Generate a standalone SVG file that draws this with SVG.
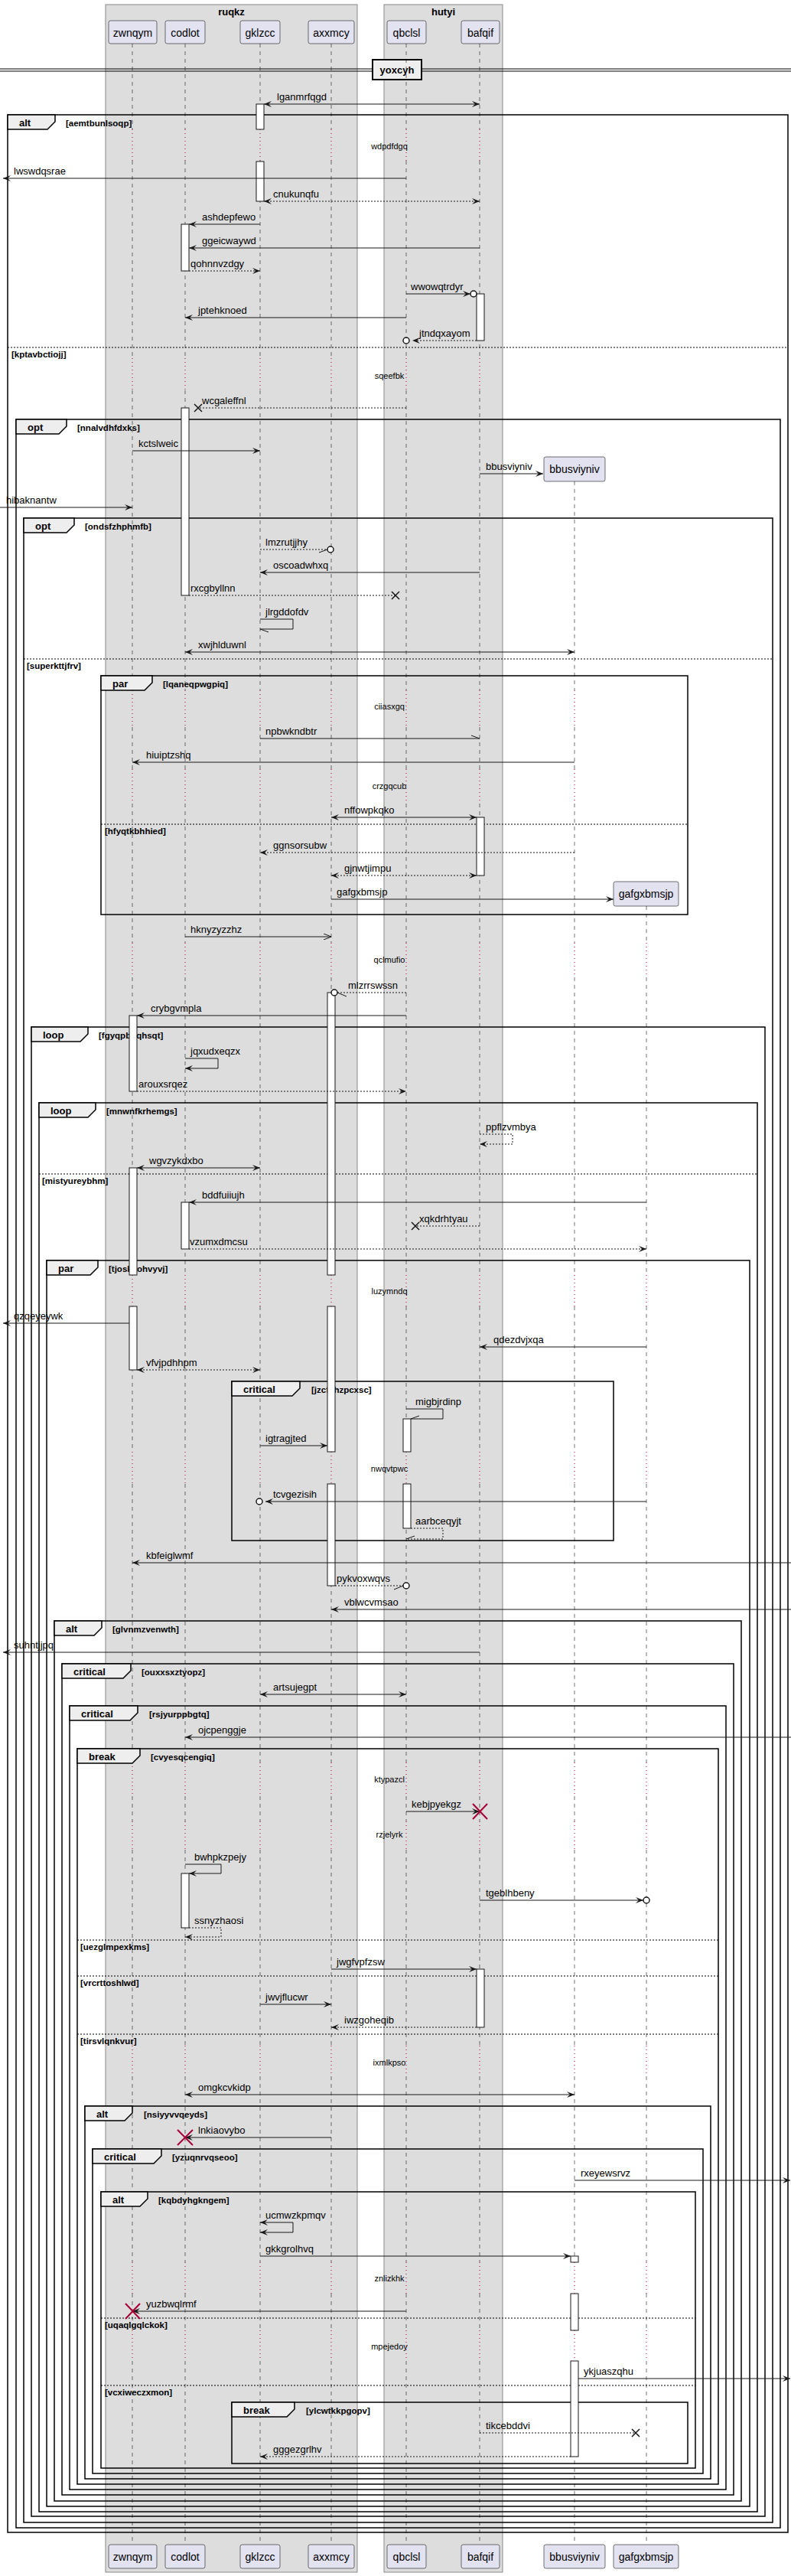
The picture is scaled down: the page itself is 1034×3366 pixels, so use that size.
<svg xmlns="http://www.w3.org/2000/svg" width="1034" height="3366" viewBox="0 0 1034 3366">
<style>
text{font-family:"Liberation Sans",Arial,sans-serif;fill:#000}
.grp{fill:#DDDDDD;stroke:#888;stroke-width:1}
.gt{font-size:13px;font-weight:bold;text-anchor:middle}
.pb{fill:#E2E2F0;stroke:#181818;stroke-width:0.6}
.pn{font-size:14px;text-anchor:middle}
.life{fill:none;stroke:#181818;stroke-width:0.6;stroke-dasharray:5,5}
.dly{fill:none;stroke:#A80036;stroke-width:1;stroke-dasharray:1,4}
.dt{font-size:11px;text-anchor:middle}
.fr{fill:none;stroke:#000;stroke-width:1.5}
.tab{fill:#EEEEEE;stroke:#000;stroke-width:1.5}
.kind{font-size:13px;font-weight:bold}
.gd{font-size:11.5px;font-weight:bold}
.sep{stroke:#000;stroke-width:1;stroke-dasharray:2,2}
.act{fill:#fff;stroke:#181818;stroke-width:1}
.m{fill:none;stroke:#181818;stroke-width:1}
.d{stroke-dasharray:2,2}
.ml{font-size:13px}
.x{stroke:#181818;stroke-width:1.5}
.rx{stroke:#A80036;stroke-width:2}
.c{fill:#fff;stroke:#181818;stroke-width:1.5}
</style>
<defs>
<marker id="af" viewBox="0 0 10 8" refX="10" refY="4" markerWidth="10" markerHeight="8" orient="auto-start-reverse" markerUnits="userSpaceOnUse"><path d="M0,0 L10,4 L0,8 L4,4 Z" fill="#181818"/></marker>
<marker id="ao" viewBox="0 0 10 8" refX="10" refY="4" markerWidth="10" markerHeight="8" orient="auto-start-reverse" markerUnits="userSpaceOnUse"><path d="M0,0 L10,4 L0,8" fill="none" stroke="#181818" stroke-width="1"/></marker>
<path id="lifeA" d="M0,57V169M0,210V468M0,510V902M0,950V1005M0,1050V1232M0,1277V1666M0,1707V1897M0,1939V2303M0,2347V2380M0,2417V2673M0,2713V2956M0,2997V3045M0,3085V3325"/>
<path id="dlyA" d="M0,169V210M0,468V510M0,902V950M0,1005V1050M0,1232V1277M0,1666V1707M0,1897V1939M0,2303V2347M0,2380V2417M0,2673V2713M0,2956V2997M0,3045V3085"/>
</defs>

<g id="group-ruqkz"><rect class="grp" x="138" y="6" width="329" height="3355"/><text class="gt" x="302.5" y="20">ruqkz</text></g>
<g id="group-hutyi"><rect class="grp" x="502" y="6" width="155" height="3355"/><text class="gt" x="579.5" y="20">hutyi</text></g>

<g id="divider-yoxcyh">
<line x1="0" y1="90" x2="1034" y2="90" stroke="#000" stroke-width="1"/>
<line x1="0" y1="93" x2="1034" y2="93" stroke="#000" stroke-width="1"/>
<rect x="487" y="78" width="64" height="26" fill="#EEEEEE" stroke="#000" stroke-width="2"/>
<text class="gt" x="519" y="96">yoxcyh</text>
</g>

<g id="p-zwnqym">
<use href="#lifeA" class="life" transform="translate(173,0)"/><use href="#dlyA" class="dly" transform="translate(173,0)"/>
<rect class="pb" x="142" y="27" width="63" height="30" rx="2.5"/><text class="pn" x="173.5" y="48">zwnqym</text>
<rect class="pb" x="142" y="3325" width="63" height="31" rx="2.5"/><text class="pn" x="173.5" y="3346">zwnqym</text>
</g>
<g id="p-codlot">
<use href="#lifeA" class="life" transform="translate(242,0)"/><use href="#dlyA" class="dly" transform="translate(242,0)"/>
<rect class="pb" x="216" y="27" width="52" height="30" rx="2.5"/><text class="pn" x="242" y="48">codlot</text>
<rect class="pb" x="216" y="3325" width="52" height="31" rx="2.5"/><text class="pn" x="242" y="3346">codlot</text>
</g>
<g id="p-gklzcc">
<use href="#lifeA" class="life" transform="translate(340,0)"/><use href="#dlyA" class="dly" transform="translate(340,0)"/>
<rect class="pb" x="314" y="27" width="52" height="30" rx="2.5"/><text class="pn" x="340" y="48">gklzcc</text>
<rect class="pb" x="314" y="3325" width="52" height="31" rx="2.5"/><text class="pn" x="340" y="3346">gklzcc</text>
</g>
<g id="p-axxmcy">
<use href="#lifeA" class="life" transform="translate(433,0)"/><use href="#dlyA" class="dly" transform="translate(433,0)"/>
<rect class="pb" x="403" y="27" width="60" height="30" rx="2.5"/><text class="pn" x="433" y="48">axxmcy</text>
<rect class="pb" x="403" y="3325" width="60" height="31" rx="2.5"/><text class="pn" x="433" y="3346">axxmcy</text>
</g>
<g id="p-qbclsl">
<use href="#lifeA" class="life" transform="translate(531,0)"/><use href="#dlyA" class="dly" transform="translate(531,0)"/>
<rect class="pb" x="506" y="27" width="51" height="30" rx="2.5"/><text class="pn" x="531.5" y="48">qbclsl</text>
<rect class="pb" x="506" y="3325" width="51" height="31" rx="2.5"/><text class="pn" x="531.5" y="3346">qbclsl</text>
</g>
<g id="p-bafqif">
<use href="#lifeA" class="life" transform="translate(627,0)"/><use href="#dlyA" class="dly" transform="translate(627,0)"/>
<rect class="pb" x="603" y="27" width="50" height="30" rx="2.5"/><text class="pn" x="628" y="48">bafqif</text>
<rect class="pb" x="603" y="3325" width="50" height="31" rx="2.5"/><text class="pn" x="628" y="3346">bafqif</text>
</g>
<g id="p-bbusviyniv">
<path class="life" transform="translate(751,0)" d="M0,629V902M0,950V1005M0,1050V1232M0,1277V1666M0,1707V1897M0,1939V2303M0,2347V2380M0,2417V2673M0,2713V2956M0,2997V3045M0,3085V3325"/>
<path class="dly" transform="translate(751,0)" d="M0,902V950M0,1005V1050M0,1232V1277M0,1666V1707M0,1897V1939M0,2303V2347M0,2380V2417M0,2673V2713M0,2956V2997M0,3045V3085"/>
<rect class="pb" x="711" y="597" width="80" height="32" rx="2.5"/><text class="pn" x="751" y="618">bbusviyniv</text>
<rect class="pb" x="711" y="3325" width="80" height="31" rx="2.5"/><text class="pn" x="751" y="3346">bbusviyniv</text>
</g>
<g id="p-gafgxbmsjp">
<path class="life" transform="translate(845,0)" d="M0,1184V1232M0,1277V1666M0,1707V1897M0,1939V2303M0,2347V2380M0,2417V2673M0,2713V2956M0,2997V3045M0,3085V3325"/>
<path class="dly" transform="translate(845,0)" d="M0,1232V1277M0,1666V1707M0,1897V1939M0,2303V2347M0,2380V2417M0,2673V2713M0,2956V2997M0,3045V3085"/>
<rect class="pb" x="802" y="1152" width="85" height="32" rx="2.5"/><text class="pn" x="844.5" y="1173">gafgxbmsjp</text>
<rect class="pb" x="802" y="3325" width="85" height="31" rx="2.5"/><text class="pn" x="844.5" y="3346">gafgxbmsjp</text>
</g>

<g id="delays">
<text class="dt" x="509" y="195">wdpdfdgq</text>
<text class="dt" x="509" y="495">sqeefbk</text>
<text class="dt" x="509" y="927">ciiasxgq</text>
<text class="dt" x="509" y="1031">crzgqcub</text>
<text class="dt" x="509" y="1258">qclmufio</text>
<text class="dt" x="509" y="1691">luzymndq</text>
<text class="dt" x="509" y="1923">nwqvtpwc</text>
<text class="dt" x="509" y="2329">ktypazcl</text>
<text class="dt" x="509" y="2401">rzjelyrk</text>
<text class="dt" x="509" y="2699">ixmlkpso</text>
<text class="dt" x="509" y="2981">znlizkhk</text>
<text class="dt" x="509" y="3070">mpejedoy</text>
</g>

<g id="frames">
<g id="f1"><rect class="fr" x="10" y="150" width="1020" height="3159"/><polygon class="tab" points="10,150 72,150 72,159 62,169 10,169"/><text class="kind" x="25" y="165">alt</text><text class="gd" x="86" y="165">[aemtbunlsoqp]</text>
<line class="sep" x1="10" y1="454" x2="1030" y2="454"/><text class="gd" x="15" y="467">[kptavbctiojj]</text></g>
<g id="f2"><rect class="fr" x="21" y="548" width="999" height="2755"/><polygon class="tab" points="21,548 87,548 87,557 77,567 21,567"/><text class="kind" x="36" y="563">opt</text><text class="gd" x="101" y="563">[nnalvdhfdxks]</text></g>
<g id="f3"><rect class="fr" x="31" y="677" width="979" height="2619"/><polygon class="tab" points="31,677 97,677 97,686 87,696 31,696"/><text class="kind" x="46" y="692">opt</text><text class="gd" x="111" y="692">[ondsfzhphmfb]</text>
<line class="sep" x1="31" y1="861" x2="1010" y2="861"/><text class="gd" x="35" y="874">[superkttjfrv]</text></g>
<g id="f4"><rect class="fr" x="132" y="883" width="767" height="312"/><polygon class="tab" points="132,883 199,883 199,892 189,902 132,902"/><text class="kind" x="147" y="898">par</text><text class="gd" x="213" y="898">[lqaneqpwgpiq]</text>
<line class="sep" x1="132" y1="1077" x2="899" y2="1077"/><text class="gd" x="137" y="1090">[hfyqtkbhhied]</text></g>
<g id="f5"><rect class="fr" x="41" y="1342" width="959" height="1946"/><polygon class="tab" points="41,1342 115,1342 115,1351 105,1361 41,1361"/><text class="kind" x="56" y="1357">loop</text><text class="gd" x="129" y="1357">[fgyqpbdqhsqt]</text></g>
<g id="f6"><rect class="fr" x="51" y="1441" width="939" height="1841"/><polygon class="tab" points="51,1441 125,1441 125,1450 115,1460 51,1460"/><text class="kind" x="66" y="1456">loop</text><text class="gd" x="139" y="1456">[mnwnfkrhemgs]</text>
<line class="sep" x1="51" y1="1534" x2="990" y2="1534"/><text class="gd" x="55" y="1547">[mistyureybhm]</text></g>
<g id="f7"><rect class="fr" x="61" y="1647" width="919" height="1628"/><polygon class="tab" points="61,1647 128,1647 128,1656 118,1666 61,1666"/><text class="kind" x="76" y="1662">par</text><text class="gd" x="142" y="1662">[tjoskxohvyvj]</text></g>
<g id="f8"><rect class="fr" x="303" y="1805" width="499" height="208"/><polygon class="tab" points="303,1805 392,1805 392,1814 382,1824 303,1824"/><text class="kind" x="318" y="1820">critical</text><text class="gd" x="407" y="1820">[jzcfxhzpcxsc]</text></g>
<g id="f9"><rect class="fr" x="71" y="2118" width="898" height="1150"/><polygon class="tab" points="71,2118 133,2118 133,2127 123,2137 71,2137"/><text class="kind" x="86" y="2133">alt</text><text class="gd" x="147" y="2133">[glvnmzvenwth]</text></g>
<g id="f10"><rect class="fr" x="81" y="2174" width="878" height="1086"/><polygon class="tab" points="81,2174 171,2174 171,2183 161,2193 81,2193"/><text class="kind" x="96" y="2189">critical</text><text class="gd" x="185" y="2189">[ouxxsxztyopz]</text></g>
<g id="f11"><rect class="fr" x="91" y="2229" width="858" height="1024"/><polygon class="tab" points="91,2229 180,2229 180,2238 170,2248 91,2248"/><text class="kind" x="106" y="2244">critical</text><text class="gd" x="195" y="2244">[rsjyurppbgtq]</text></g>
<g id="f12"><rect class="fr" x="101" y="2285" width="838" height="961"/><polygon class="tab" points="101,2285 183,2285 183,2294 173,2304 101,2304"/><text class="kind" x="116" y="2300">break</text><text class="gd" x="197" y="2300">[cvyesqcengiq]</text>
<line class="sep" x1="101" y1="2535" x2="939" y2="2535"/><text class="gd" x="105" y="2548">[uezglmpexkms]</text>
<line class="sep" x1="101" y1="2582" x2="939" y2="2582"/><text class="gd" x="105" y="2595">[vrcrttoshlwd]</text>
<line class="sep" x1="101" y1="2658" x2="939" y2="2658"/><text class="gd" x="105" y="2671">[tirsvlqnkvur]</text></g>
<g id="f13"><rect class="fr" x="111" y="2752" width="818" height="487"/><polygon class="tab" points="111,2752 173,2752 173,2761 163,2771 111,2771"/><text class="kind" x="126" y="2767">alt</text><text class="gd" x="188" y="2767">[nsiyyvvqeyds]</text></g>
<g id="f14"><rect class="fr" x="121" y="2808" width="798" height="424"/><polygon class="tab" points="121,2808 211,2808 211,2817 201,2827 121,2827"/><text class="kind" x="136" y="2823">critical</text><text class="gd" x="225" y="2823">[yzuqnrvqseoo]</text></g>
<g id="f15"><rect class="fr" x="132" y="2864" width="777" height="361"/><polygon class="tab" points="132,2864 193,2864 193,2873 183,2883 132,2883"/><text class="kind" x="147" y="2879">alt</text><text class="gd" x="207" y="2879">[kqbdyhgkngem]</text>
<line class="sep" x1="132" y1="3029" x2="909" y2="3029"/><text class="gd" x="137" y="3042">[uqaqlgqlckok]</text>
<line class="sep" x1="132" y1="3117" x2="909" y2="3117"/><text class="gd" x="137" y="3130">[vcxiweczxmon]</text></g>
<g id="f16"><rect class="fr" x="303" y="3139" width="596" height="80"/><polygon class="tab" points="303,3139 385,3139 385,3148 375,3158 303,3158"/><text class="kind" x="318" y="3154">break</text><text class="gd" x="400" y="3154">[ylcwtkkpgopv]</text></g>
</g>

<g id="activations">
<rect class="act" x="335" y="136" width="10" height="33"/>
<rect class="act" x="335" y="211" width="10" height="52"/>
<rect class="act" x="237" y="293" width="10" height="61"/>
<rect class="act" x="623" y="384" width="10" height="61"/>
<rect class="act" x="237" y="533" width="10" height="245"/>
<rect class="act" x="623" y="1068" width="10" height="76"/>
<rect class="act" x="428" y="1297" width="10" height="369"/>
<rect class="act" x="428" y="1707" width="10" height="190"/>
<rect class="act" x="428" y="1939" width="10" height="133"/>
<rect class="act" x="169" y="1327" width="10" height="99"/>
<rect class="act" x="169" y="1526" width="10" height="140"/>
<rect class="act" x="169" y="1707" width="10" height="83"/>
<rect class="act" x="237" y="1571" width="10" height="61"/>
<rect class="act" x="527" y="1854" width="10" height="43"/>
<rect class="act" x="527" y="1939" width="10" height="58"/>
<rect class="act" x="237" y="2448" width="10" height="71"/>
<rect class="act" x="623" y="2573" width="10" height="76"/>
<rect class="act" x="746" y="2948" width="10" height="8"/>
<rect class="act" x="746" y="2997" width="10" height="48"/>
<rect class="act" x="746" y="3085" width="10" height="125"/>
</g>

<g id="connectors">
<line class="m" x1="345" y1="136" x2="627" y2="136" marker-start="url(#af)" marker-end="url(#af)"/>
<line class="m" x1="531" y1="233" x2="4" y2="233" marker-end="url(#af)"/>
<line class="m d" x1="345" y1="263" x2="627" y2="263" marker-start="url(#af)" marker-end="url(#af)"/>
<line class="m" x1="340" y1="293" x2="247" y2="293" marker-end="url(#af)"/>
<line class="m" x1="627" y1="324" x2="247" y2="324" marker-end="url(#af)"/>
<line class="m d" x1="247" y1="354" x2="340" y2="354" marker-end="url(#af)"/>
<line class="m" x1="531" y1="384" x2="615" y2="384" marker-end="url(#af)"/><circle class="c" cx="619" cy="384" r="4"/>
<line class="m" x1="531" y1="415" x2="242" y2="415" marker-end="url(#af)"/>
<line class="m d" x1="623" y1="445" x2="539" y2="445" marker-end="url(#af)"/><circle class="c" cx="531" cy="445" r="4"/>
<line class="m d" x1="531" y1="533" x2="259" y2="533"/><path class="x" d="M254,528L264,538M254,538L264,528"/>
<line class="m" x1="173" y1="589" x2="340" y2="589" marker-end="url(#af)"/>
<line class="m" x1="627" y1="619" x2="710" y2="619" marker-end="url(#af)"/>
<line class="m" x1="0" y1="663" x2="173" y2="663" marker-end="url(#af)"/>
<line class="m d" x1="340" y1="718" x2="428" y2="718"/><line class="m" x1="417" y1="722" x2="428" y2="718"/><circle class="c" cx="432" cy="718" r="4"/>
<line class="m" x1="627" y1="748" x2="340" y2="748" marker-end="url(#af)"/>
<line class="m d" x1="247" y1="778" x2="517" y2="778"/><path class="x" d="M512,773L522,783M512,783L522,773"/>
<path class="m" d="M340,809H383V822H340"/><line class="m" x1="340" y1="822" x2="351" y2="826"/>
<line class="m" x1="242" y1="852" x2="751" y2="852" marker-start="url(#af)" marker-end="url(#af)"/>
<line class="m" x1="340" y1="965" x2="627" y2="965"/><line class="m" x1="616" y1="961" x2="627" y2="965"/>
<line class="m" x1="751" y1="996" x2="173" y2="996" marker-end="url(#af)"/>
<line class="m" x1="433" y1="1068" x2="623" y2="1068" marker-start="url(#af)" marker-end="url(#af)"/>
<line class="m d" x1="751" y1="1114" x2="340" y2="1114" marker-end="url(#af)"/>
<line class="m d" x1="433" y1="1144" x2="623" y2="1144" marker-start="url(#af)" marker-end="url(#af)"/>
<line class="m" x1="433" y1="1175" x2="802" y2="1175" marker-end="url(#af)"/>
<line class="m" x1="242" y1="1224" x2="433" y2="1224" marker-end="url(#ao)"/>
<line class="m d" x1="531" y1="1297" x2="441" y2="1297"/><line class="m" x1="441" y1="1297" x2="453" y2="1302"/><circle class="c" cx="437" cy="1297" r="4"/>
<line class="m" x1="531" y1="1327" x2="179" y2="1327" marker-end="url(#af)"/>
<path class="m" d="M242,1383H285V1396H242" marker-end="url(#af)"/>
<line class="m d" x1="179" y1="1426" x2="531" y2="1426" marker-end="url(#af)"/>
<path class="m d" d="M627,1482H670V1495H627" marker-end="url(#af)"/>
<line class="m" x1="179" y1="1526" x2="340" y2="1526" marker-start="url(#af)" marker-end="url(#af)"/>
<line class="m" x1="845" y1="1571" x2="247" y2="1571" marker-end="url(#af)"/>
<line class="m d" x1="627" y1="1602" x2="543" y2="1602"/><path class="x" d="M538,1597L548,1607M538,1607L548,1597"/>
<line class="m d" x1="247" y1="1632" x2="845" y2="1632" marker-end="url(#af)"/>
<line class="m" x1="169" y1="1729" x2="4" y2="1729" marker-end="url(#af)"/>
<line class="m" x1="845" y1="1760" x2="627" y2="1760" marker-end="url(#af)"/>
<line class="m d" x1="179" y1="1790" x2="340" y2="1790" marker-start="url(#af)" marker-end="url(#af)"/>
<path class="m" d="M531,1841H579V1854H537"/><line class="m" x1="537" y1="1854" x2="548" y2="1850"/>
<line class="m" x1="340" y1="1889" x2="428" y2="1889" marker-end="url(#af)"/>
<line class="m" x1="845" y1="1962" x2="347" y2="1962" marker-end="url(#af)"/><circle class="c" cx="339" cy="1962" r="4"/>
<path class="m d" d="M537,1997H579V2011H531"/><line class="m" x1="531" y1="2011" x2="542" y2="2007"/>
<line class="m" x1="1034" y1="2042" x2="173" y2="2042" marker-end="url(#af)"/>
<line class="m d" x1="438" y1="2072" x2="527" y2="2072"/><line class="m" x1="515" y1="2077" x2="527" y2="2072"/><circle class="c" cx="531" cy="2072" r="4"/>
<line class="m" x1="1034" y1="2103" x2="433" y2="2103" marker-end="url(#af)"/>
<line class="m" x1="627" y1="2159" x2="4" y2="2159" marker-end="url(#af)"/>
<line class="m" x1="340" y1="2214" x2="531" y2="2214" marker-start="url(#af)" marker-end="url(#af)"/>
<line class="m" x1="1034" y1="2270" x2="242" y2="2270" marker-end="url(#af)"/>
<line class="m" x1="531" y1="2367" x2="627" y2="2367" marker-end="url(#af)"/><path class="rx" d="M618,2357L637,2377M618,2377L637,2357"/>
<path class="m" d="M242,2436H289V2448H247" marker-end="url(#af)"/>
<line class="m" x1="627" y1="2483" x2="841" y2="2483" marker-end="url(#af)"/><circle class="c" cx="845" cy="2483" r="4"/>
<path class="m d" d="M247,2519H289V2531H242" marker-end="url(#af)"/>
<line class="m" x1="433" y1="2573" x2="623" y2="2573" marker-end="url(#af)"/>
<line class="m" x1="340" y1="2619" x2="433" y2="2619" marker-end="url(#af)"/>
<line class="m d" x1="623" y1="2649" x2="433" y2="2649" marker-end="url(#af)"/>
<line class="m" x1="242" y1="2737" x2="751" y2="2737" marker-start="url(#af)" marker-end="url(#af)"/>
<line class="m" x1="433" y1="2793" x2="242" y2="2793" marker-end="url(#af)"/><path class="rx" d="M232,2783L252,2803M232,2803L252,2783"/>
<line class="m" x1="751" y1="2849" x2="1033" y2="2849" marker-end="url(#af)"/>
<path class="m" d="M340,2904H383V2917H340" marker-start="url(#af)" marker-end="url(#af)"/>
<line class="m" x1="340" y1="2948" x2="746" y2="2948" marker-end="url(#af)"/>
<line class="m" x1="531" y1="3020" x2="173" y2="3020" marker-end="url(#af)"/><path class="rx" d="M164,3010L183,3030M164,3030L183,3010"/>
<line class="m" x1="756" y1="3108" x2="1033" y2="3108" marker-end="url(#af)"/>
<line class="m d" x1="627" y1="3179" x2="831" y2="3179"/><path class="x" d="M826,3174L836,3184M826,3184L836,3174"/>
<line class="m d" x1="746" y1="3210" x2="340" y2="3210" marker-end="url(#af)"/>
</g>

<g id="labels">
<text class="ml" x="362" y="131">lganmrfqgd</text>
<text class="ml" x="18" y="228">lwswdqsrae</text>
<text class="ml" x="357" y="258">cnukunqfu</text>
<text class="ml" x="264" y="288">ashdepfewo</text>
<text class="ml" x="264" y="319">ggeicwaywd</text>
<text class="ml" x="249" y="349">qohnnvzdgy</text>
<text class="ml" x="537" y="379">wwowqtrdyr</text>
<text class="ml" x="259" y="410">jptehknoed</text>
<text class="ml" x="548" y="440">jtndqxayom</text>
<text class="ml" x="264" y="528">wcgaleffnl</text>
<text class="ml" x="181" y="584">kctslweic</text>
<text class="ml" x="635" y="614">bbusviyniv</text>
<text class="ml" x="8" y="658">hibaknantw</text>
<text class="ml" x="347" y="713">lmzrutjjhy</text>
<text class="ml" x="357" y="743">oscoadwhxq</text>
<text class="ml" x="249" y="773">rxcgbyllnn</text>
<text class="ml" x="347" y="804">jlrgddofdv</text>
<text class="ml" x="259" y="847">xwjhlduwnl</text>
<text class="ml" x="347" y="960">npbwkndbtr</text>
<text class="ml" x="191" y="991">hiuiptzshq</text>
<text class="ml" x="450" y="1063">nffowpkqko</text>
<text class="ml" x="357" y="1109">ggnsorsubw</text>
<text class="ml" x="450" y="1139">gjnwtjimpu</text>
<text class="ml" x="440" y="1170">gafgxbmsjp</text>
<text class="ml" x="249" y="1219">hknyzyzzhz</text>
<text class="ml" x="455" y="1292">mlzrrswssn</text>
<text class="ml" x="197" y="1322">crybgvmpla</text>
<text class="ml" x="249" y="1378">jqxudxeqzx</text>
<text class="ml" x="181" y="1421">arouxsrqez</text>
<text class="ml" x="635" y="1477">ppflzvmbya</text>
<text class="ml" x="195" y="1521">wgvzykdxbo</text>
<text class="ml" x="264" y="1566">bddfuiiujh</text>
<text class="ml" x="548" y="1597">xqkdrhtyau</text>
<text class="ml" x="248" y="1627">vzumxdmcsu</text>
<text class="ml" x="18" y="1724">qzqeyeywk</text>
<text class="ml" x="645" y="1755">qdezdvjxqa</text>
<text class="ml" x="191" y="1785">vfvjpdhhpm</text>
<text class="ml" x="543" y="1836">migbjrdinp</text>
<text class="ml" x="347" y="1884">igtragjted</text>
<text class="ml" x="357" y="1957">tcvgezisih</text>
<text class="ml" x="543" y="1992">aarbceqyjt</text>
<text class="ml" x="191" y="2037">kbfeiglwmf</text>
<text class="ml" x="440" y="2067">pykvoxwqvs</text>
<text class="ml" x="450" y="2098">vblwcvmsao</text>
<text class="ml" x="18" y="2154">suhntjjpq</text>
<text class="ml" x="357" y="2209">artsujegpt</text>
<text class="ml" x="259" y="2265">ojcpenggje</text>
<text class="ml" x="538" y="2362">kebjpyekgz</text>
<text class="ml" x="254" y="2431">bwhpkzpejy</text>
<text class="ml" x="635" y="2478">tgeblhbeny</text>
<text class="ml" x="254" y="2514">ssnyzhaosi</text>
<text class="ml" x="440" y="2568">jwgfvpfzsw</text>
<text class="ml" x="347" y="2614">jwvjflucwr</text>
<text class="ml" x="450" y="2644">iwzgoheqib</text>
<text class="ml" x="259" y="2732">omgkcvkidp</text>
<text class="ml" x="259" y="2788">lnkiaovybo</text>
<text class="ml" x="759" y="2844">rxeyewsrvz</text>
<text class="ml" x="347" y="2899">ucmwzkpmqv</text>
<text class="ml" x="347" y="2943">gkkgrolhvq</text>
<text class="ml" x="191" y="3015">yuzbwqlrmf</text>
<text class="ml" x="763" y="3103">ykjuaszqhu</text>
<text class="ml" x="635" y="3174">tikcebddvi</text>
<text class="ml" x="357" y="3205">gggezgrlhv</text>
</g>
</svg>
